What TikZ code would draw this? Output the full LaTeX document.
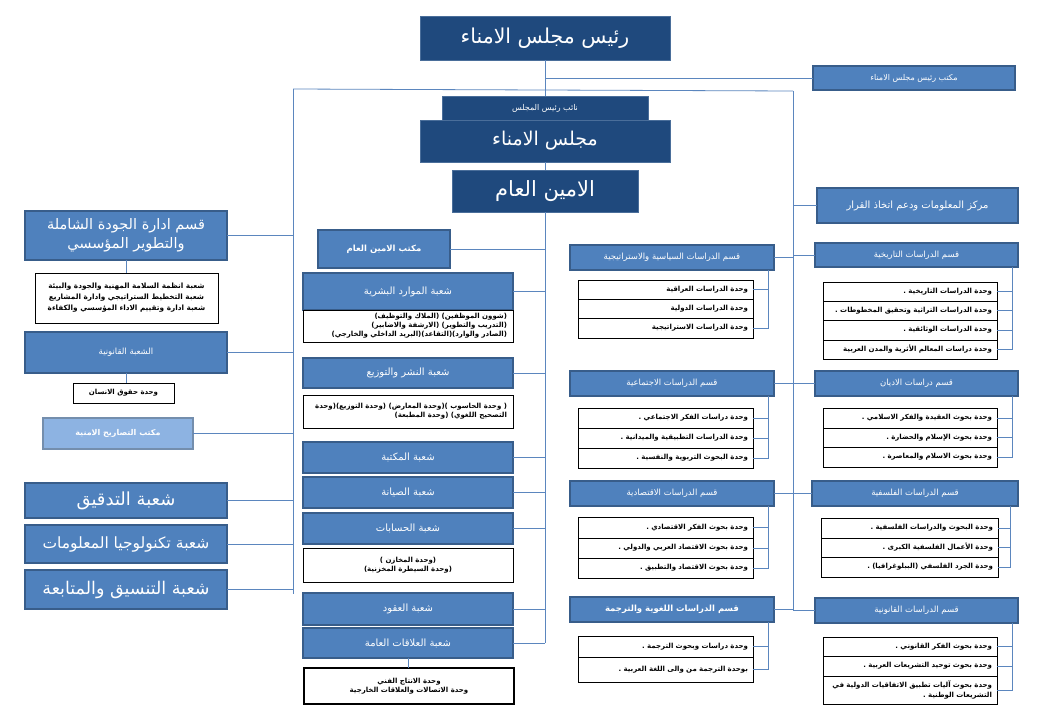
\documentclass[tikz,border=0pt]{standalone}
\usepackage{fontspec}
\newfontfamily\arabicfont[Script=Arabic]{DejaVu Sans}
\TeXXeTstate=1
\usetikzlibrary{calc}
\definecolor{dkb}{HTML}{1F497D}
\definecolor{dkbd}{HTML}{4A6E9A}
\definecolor{mdb}{HTML}{4F81BD}
\definecolor{mdbd}{HTML}{385D8A}
\definecolor{ltb}{HTML}{8DB3E2}
\definecolor{lnc}{HTML}{5B86BE}
\newcommand\ar[1]{{\arabicfont\beginR #1\endR}}
\newcommand\fs[1]{\fontsize{#1pt}{\dimexpr#1pt*13/10\relax}\selectfont}
\newcommand\bx[7]{%
  \pgfmathsetmacro\bxw{#5-#3}\pgfmathsetmacro\bxh{#6-#4}%
  \pgfmathsetmacro\bxx{(#3+#5)/2}\pgfmathsetmacro\bxy{(#4+#6)/2}%
  \node[#2, minimum width=\bxw pt, minimum height=\bxh pt] (#1) at (\bxx,\bxy) {#7};}
\newcommand\rw[6]{%
  \pgfmathsetmacro\bxw{#4-#2}\pgfmathsetmacro\bxh{#5-#3}\pgfmathsetmacro\bxt{#4-#2-10}%
  \pgfmathsetmacro\bxx{(#2+#4)/2}\pgfmathsetmacro\bxy{(#3+#5)/2}%
  \node[rowbox, text width=\bxt pt, minimum width=\bxw pt, minimum height=\bxh pt] (#1) at (\bxx,\bxy) {#6};}
\begin{document}
\begin{tikzpicture}[x=1pt,y=-1pt,
  box/.style={inner sep=0pt, outer sep=0pt, align=center, text=white},
  dk/.style={box, fill=dkb, draw=dkbd, line width=0.8pt},
  md/.style={box, fill=mdb, draw=mdbd, line width=1.3pt},
  lt/.style={box, fill=ltb, draw=mdbd!70, line width=1.3pt},
  wb/.style={inner sep=0pt, outer sep=0pt, align=center, fill=white, draw=black, line width=0.7pt, font=\fs{7}\bfseries},
  wbt/.style={wb, line width=2.2pt},
  rowbox/.style={inner xsep=5pt, inner ysep=0pt, outer sep=0pt, align=right, fill=white, draw=black, line width=0.7pt, font=\fs{7}\bfseries},
  conn/.style={draw=lnc, line width=0.8pt}]
\fill[white] (0,0) rectangle (1040,720);
\useasboundingbox (0,0) rectangle (1040,720);

% ---- top ----
\bx{rais}{dk,font=\fs{20.5}}{420}{16}{670}{60}{\ar{رئيس مجلس الامناء}}
\bx{office}{md,font=\fs{8}}{813}{66}{1015}{90}{\ar{مكتب رئيس مجلس الامناء}}
\bx{majlis}{dk,font=\fs{19}}{420}{120}{670}{162}{\ar{مجلس الامناء}}
\bx{naib}{dk,font=\fs{8}}{442}{96}{648}{120}{\ar{نائب رئيس المجلس}}
\bx{amin}{dk,font=\fs{21}}{452}{170}{638}{212}{\ar{الامين العام}}

% ---- left column ----
\bx{jawda}{md,font=\fontsize{14.5pt}{19pt}\selectfont}{25}{211}{227}{260}{\ar{قسم ادارة الجودة الشاملة}\\\ar{والتطوير المؤسسي}}
\bx{jawdaS}{wb,font=\fontsize{7.3pt}{11pt}\selectfont\bfseries}{35}{273}{218}{323}{\ar{شعبة انظمة السلامة المهنية والجودة والبيئة}\\\ar{شعبة التخطيط الستراتيجي وادارة المشاريع}\\\ar{شعبة ادارة وتقييم الاداء المؤسسي والكفاءة}}
\bx{qanun}{md,font=\fs{8.5}}{25}{332}{227}{373}{\ar{الشعبة القانونية}}
\bx{qanunS}{wb}{73}{383}{174}{403}{\ar{وحدة حقوق الانسان}}
\bx{tasarih}{lt,font=\fs{8}\bfseries}{43}{418}{193}{449}{\ar{مكتب التصاريح الامنية}}
\bx{tadqiq}{md,font=\fs{18}}{25}{483}{227}{518}{\ar{شعبة التدقيق}}
\bx{tech}{md,font=\fs{15.5}}{25}{525}{227}{563}{\ar{شعبة تكنولوجيا المعلومات}}
\bx{tansiq}{md,font=\fs{17.5}}{25}{570}{227}{609}{\ar{شعبة التنسيق والمتابعة}}

% ---- middle column ----
\bx{mktb}{md,font=\fs{8.5}\bfseries}{318}{230}{450}{268}{\ar{مكتب الامين العام}}
\bx{hr}{md,font=\fs{10}}{303}{273}{513}{310}{\ar{شعبة الموارد البشرية}}
\bx{hrS}{wb}{303}{310}{513}{342}{\parbox{198pt}{\raggedleft\ar{(شوون الموظفين) (الملاك والتوظيف)}\\\ar{(التدريب والتطوير) (الارشفة والاضابير)}\\\ar{(الصادر والوارد)(التقاعد)(البريد الداخلي والخارجي)}}}
\bx{nashr}{md,font=\fs{10}}{303}{358}{513}{388}{\ar{شعبة النشر والتوزيع}}
\bx{nashrS}{wb}{303}{395}{513}{428}{\parbox{198pt}{\raggedleft\ar{( وحدة الحاسوب )(وحدة المعارض) (وحدة التوزيع)(وحدة}\\\ar{التصحيح اللغوي) (وحدة المطبعة)}}}
\bx{maktaba}{md,font=\fs{10}}{303}{442}{513}{473}{\ar{شعبة المكتبة}}
\bx{siyana}{md,font=\fs{10}}{303}{477}{513}{508}{\ar{شعبة الصيانة}}
\bx{hisabat}{md,font=\fs{10}}{303}{513}{513}{544}{\ar{شعبة الحسابات}}
\bx{hisabatS}{wb}{303}{548}{513}{582}{\ar{(وحدة المخازن )}\\\ar{(وحدة السيطرة المخزنية)}}
\bx{uqud}{md,font=\fs{10}}{303}{593}{513}{625}{\ar{شعبة العقود}}
\bx{ilaqat}{md,font=\fs{10}}{303}{628}{513}{658}{\ar{شعبة العلاقات العامة}}
\bx{ilaqatS}{wbt}{304}{668}{514}{704}{\ar{وحدة الانتاج الفني}\\\ar{وحدة الاتصالات والعلاقات الخارجية}}

% ---- middle-right column ----
\bx{pol}{md,font=\fs{8.5}}{570}{245}{774}{270}{\ar{قسم الدراسات السياسية والاستراتيجية}}
\rw{pol1}{578}{280}{753}{299}{\ar{وحدة الدراسات العراقية}}
\rw{pol2}{578}{299}{753}{318}{\ar{وحدة الدراسات الدولية}}
\rw{pol3}{578}{318}{753}{338}{\ar{وحدة الدراسات الاستراتيجية}}
\bx{soc}{md,font=\fs{8.5}}{570}{371}{774}{396}{\ar{قسم الدراسات الاجتماعية}}
\rw{soc1}{578}{408}{753}{428}{\ar{وحدة دراسات الفكر الاجتماعي .}}
\rw{soc2}{578}{428}{753}{448}{\ar{وحدة الدراسات التطبيقية والميدانية .}}
\rw{soc3}{578}{448}{753}{468}{\ar{وحدة البحوث التربوية والنفسية .}}
\bx{eco}{md,font=\fs{8.5}}{570}{481}{774}{506}{\ar{قسم الدراسات الاقتصادية}}
\rw{eco1}{578}{517}{753}{538}{\ar{وحدة بحوث الفكر الاقتصادي .}}
\rw{eco2}{578}{538}{753}{558}{\ar{وحدة بحوث الاقتصاد العربي والدولي .}}
\rw{eco3}{578}{558}{753}{578}{\ar{وحدة بحوث الاقتصاد والتطبيق .}}
\bx{lng}{md,font=\fs{8.5}\bfseries}{570}{597}{774}{622}{\ar{قسم الدراسات اللغوية والترجمة}}
\rw{lng1}{578}{636}{753}{657}{\ar{وحدة دراسات وبحوث الترجمة .}}
\rw{lng2}{578}{657}{753}{682}{\ar{بوحدة الترجمة من والى اللغة العربية .}}

% ---- right column ----
\bx{info}{md,font=\fs{10}}{817}{188}{1018}{223}{\ar{مركز المعلومات ودعم اتخاذ القرار}}
\bx{hist}{md,font=\fs{8.5}}{815}{243}{1018}{267}{\ar{قسم الدراسات التاريخية}}
\rw{h1}{823}{282}{997}{301}{\ar{وحدة الدراسات التاريخية .}}
\rw{h2}{823}{301}{997}{320}{\ar{وحدة الدراسات التراثية وتحقيق المخطوطات .}}
\rw{h3}{823}{320}{997}{340}{\ar{وحدة الدراسات الوثائقية .}}
\rw{h4}{823}{340}{997}{359}{\ar{وحدة دراسات المعالم الأثرية والمدن العربية}}
\bx{rel}{md,font=\fs{8.5}}{815}{371}{1018}{396}{\ar{قسم دراسات الاديان}}
\rw{r1}{823}{408}{997}{428}{\ar{وحدة بحوث العقيدة والفكر الاسلامي .}}
\rw{r2}{823}{428}{997}{447}{\ar{وحدة بحوث الإسلام والحضارة .}}
\rw{r3}{823}{447}{997}{467}{\ar{وحدة بحوث الاسلام والمعاصرة .}}
\bx{phil}{md,font=\fs{8.5}}{812}{481}{1018}{506}{\ar{قسم الدراسات الفلسفية}}
\rw{p1}{821}{518}{998}{538}{\ar{وحدة البحوث والدراسات الفلسفية .}}
\rw{p2}{821}{538}{998}{557}{\ar{وحدة الأعمال الفلسفية الكبرى .}}
\rw{p3}{821}{557}{998}{577}{\ar{وحدة الجرد الفلسفي (الببلوغرافيا) .}}
\bx{law}{md,font=\fs{8.5}}{815}{598}{1018}{623}{\ar{قسم الدراسات القانونية}}
\rw{l1}{823}{637}{997}{656}{\ar{وحدة بحوث الفكر القانوني .}}
\rw{l2}{823}{656}{997}{676}{\ar{وحدة بحوث توحيد التشريعات العربية .}}
\rw{l3}{823}{676}{997}{704}{\ar{وحدة بحوث آليات تطبيق الاتفاقيات الدولية في}\\\ar{التشريعات الوطنية .}}

% ---- connectors ----
\coordinate (LT) at (293,89);
\coordinate (LB) at (293,594);
\coordinate (RT) at (793,91);
\coordinate (RB) at (793,610);
\coordinate (MB) at (545,643);
\draw[conn] (rais.south) -- (naib.north);
\draw[conn] (office.west) -- (office.west -| rais.south);
\draw[conn] (LT) -- (RT);
\draw[conn] (LT) -- (LB);
\draw[conn] (RT) -- (RB);
\draw[conn] (majlis.south) -- (majlis.south |- amin.north);
\draw[conn] (amin.south) -- (MB);
\foreach \n in {jawda,qanun,tasarih,tadqiq,tech,tansiq}
  \draw[conn] (\n.east) -- (\n.east -| LT);
\foreach \n in {mktb,hr,nashr,maktaba,siyana,hisabat,uqud,ilaqat}
  \draw[conn] (\n.east) -- (\n.east -| MB);
\foreach \n in {info,hist,rel,phil,law}
  \draw[conn] (\n.west) -- (\n.west -| RT);
\foreach \n in {pol,soc,eco,lng}
  \draw[conn] (\n.east) -- (\n.east -| RT);
\draw[conn] (jawda.south) -- (jawda.south |- jawdaS.north);
\draw[conn] (qanun.south) -- (qanun.south |- qanunS.north);
\draw[conn] (ilaqat.south) -- (ilaqat.south |- ilaqatS.north);
% brackets
\coordinate (polB) at ([xshift=-6pt]pol.south east);
\draw[conn] (polB) |- (pol3.east);
\draw[conn] (pol1.east) -- (pol1.east -| polB);
\coordinate (socB) at ([xshift=-6pt]soc.south east);
\draw[conn] (socB) |- (soc3.east);
\foreach \n in {soc1,soc2} \draw[conn] (\n.east) -- (\n.east -| socB);
\coordinate (ecoB) at ([xshift=-6pt]eco.south east);
\draw[conn] (ecoB) |- (eco3.east);
\foreach \n in {eco1,eco2} \draw[conn] (\n.east) -- (\n.east -| ecoB);
\coordinate (lngB) at ([xshift=-6pt]lng.south east);
\draw[conn] (lngB) |- (lng2.east);
\draw[conn] (lng1.east) -- (lng1.east -| lngB);
\coordinate (histB) at ([xshift=-6pt]hist.south east);
\draw[conn] (histB) |- (h4.east);
\foreach \n in {h1,h2,h3} \draw[conn] (\n.east) -- (\n.east -| histB);
\coordinate (relB) at ([xshift=-6pt]rel.south east);
\draw[conn] (relB) |- (r3.east);
\foreach \n in {r1,r2} \draw[conn] (\n.east) -- (\n.east -| relB);
\coordinate (philB) at ([xshift=-8pt]phil.south east);
\draw[conn] (philB) |- (p3.east);
\foreach \n in {p1,p2} \draw[conn] (\n.east) -- (\n.east -| philB);
\coordinate (lawB) at ([xshift=-6pt]law.south east);
\draw[conn] (lawB) |- (l3.east);
\foreach \n in {l1,l2} \draw[conn] (\n.east) -- (\n.east -| lawB);
\end{tikzpicture}
\end{document}
